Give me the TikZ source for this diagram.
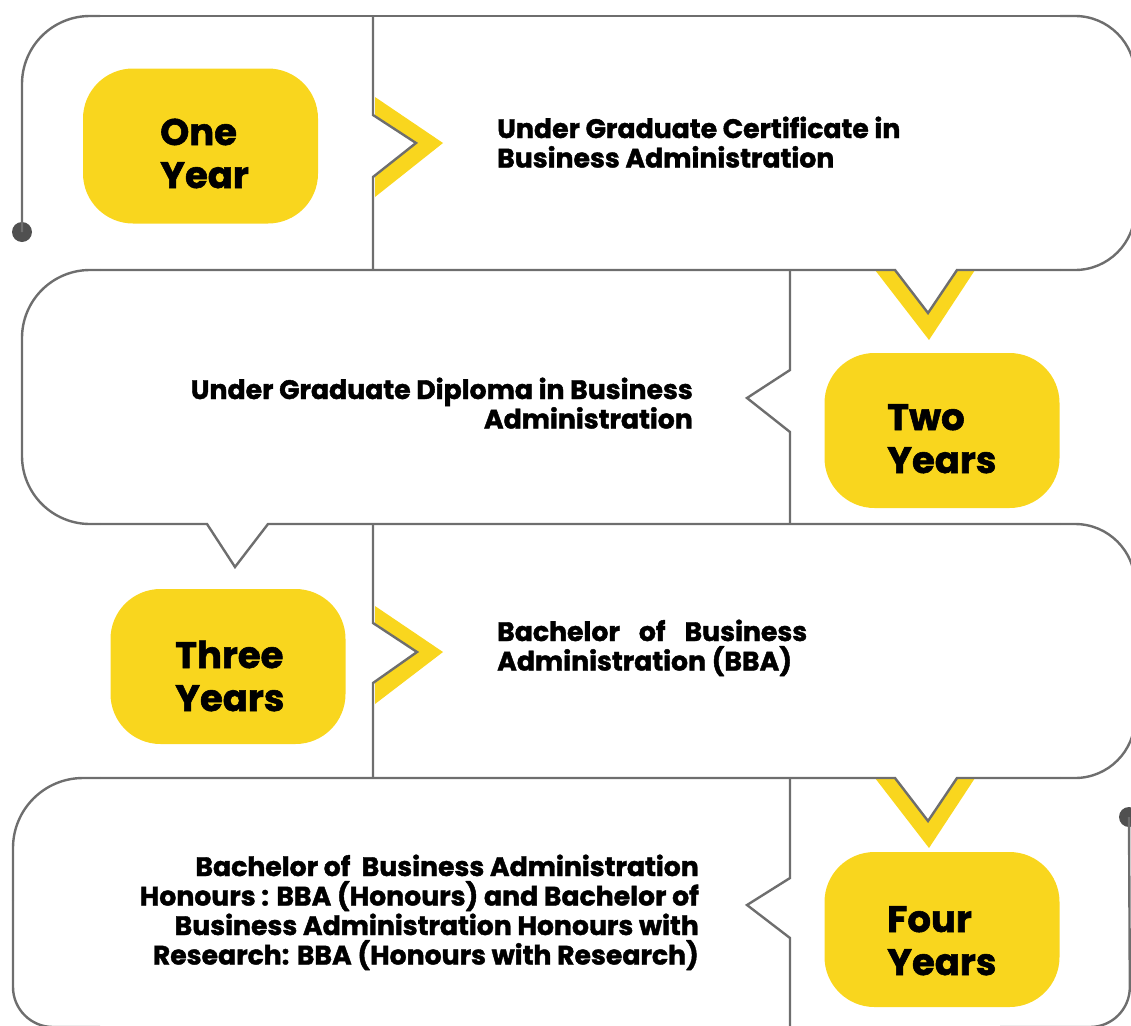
\documentclass[tikz,border=0pt]{standalone}
\usepackage{fontspec}
\setmainfont{Poppins}[BoldFeatures={FakeBold=1.5}]
\definecolor{ylw}{RGB}{249,214,30}
\definecolor{lne}{RGB}{110,110,110}
\definecolor{dotc}{RGB}{80,80,80}
\begin{document}
\begin{tikzpicture}[x=1pt,y=-1pt,
  edge/.style={draw=lne, line width=2.4pt, line join=miter},
  yearbox/.style={fill=ylw, rounded corners=50pt, minimum width=235pt, minimum height=155pt, inner sep=0pt},
  yeartext/.style={font=\fontsize{37}{43}\selectfont\bfseries, align=left, inner sep=0pt, anchor=base west},
  desc/.style={font=\fontsize{26.7}{29.5}\selectfont\bfseries, inner sep=0pt},
  dotnode/.style={circle, fill=dotc, minimum size=20pt, inner sep=0pt}]
\useasboundingbox (0,0) rectangle (1131,1025);
\clip (0,0) rectangle (1131,1025);
% yellow chevrons
\fill[ylw] (375,97) -- (443,143) -- (375,197) -- (375,177) -- (416,143) -- (375,115) -- cycle;
\fill[ylw] (875,270) -- (929,340) -- (975,270) -- (957,270) -- (928,313) -- (895,270) -- cycle;
\fill[ylw] (375,606) -- (443,652) -- (375,704) -- (375,683) -- (417,652) -- (375,623) -- cycle;
\fill[ylw] (875,778) -- (929,848) -- (975,778) -- (957,778) -- (928,821) -- (895,778) -- cycle;
% dots
\node[dotnode] (start) at (22,232) {};
\node[dotnode] (finish) at (1129,817) {};
% snake outline
\draw[edge, rounded corners=68pt] (start.center) -- (22,16) -- (100,16);
\draw[edge] (100,16) -- (1060,16);
\draw[edge, rounded corners=60pt] (1060,16) -- (1135,16) -- (1135,270) -- (1060,270);
\draw[edge] (1060,270) -- (957,270) -- (928,313) -- (895,270) -- (100,270);
\draw[edge, rounded corners=68pt] (100,270) -- (22,270) -- (22,524) -- (100,524);
\draw[edge] (100,524) -- (207,524) -- (235,567) -- (268,524) -- (1060,524);
\draw[edge, rounded corners=60pt] (1060,524) -- (1135,524) -- (1135,778) -- (1060,778);
\draw[edge] (1060,778) -- (957,778) -- (928,821) -- (895,778) -- (100,778);
\draw[edge, rounded corners=70pt] (100,778) -- (13,778) -- (13,900);
\draw[edge, rounded corners=40pt] (13,900) -- (13,1027) -- (100,1027);
\draw[edge, rounded corners=40pt] (finish.center) -- (1130,1027) -- (1000,1027);
% dividers
\draw[edge] (373,16) -- (373,115) -- (416,143) -- (373,177) -- (373,270);
\draw[edge] (790,270) -- (790,370) -- (747,398) -- (790,432) -- (790,524);
\draw[edge] (373,524) -- (373,623) -- (417,652) -- (373,683) -- (373,778);
\draw[edge] (790,778) -- (790,878) -- (747,905) -- (790,938) -- (790,1030);
% year boxes
\node[yearbox] (b1) at (200.5,146) {};
\node[yearbox] (b2) at (942,430.5) {};
\node[yearbox] (b3) at (228,666.5) {};
\node[yearbox] (b4) at (942,929.5) {};
% (base anchor = baseline of the last line)
\node[yeartext] (y1) at (160,188) {One\\Year};
\node[yeartext] (y2) at (887,473) {Two\\Years};
\node[yeartext] (y3) at (175,711) {Three\\Years};
\node[yeartext] (y4) at (887,975) {Four\\Years};
% descriptions
\node[desc, anchor=base west, align=left] (d1) at (497,167.5) {Under Graduate Certificate in\\Business Administration};
\node[desc, anchor=base east, align=right] (d2) at (693,428.5) {Under Graduate Diploma in Business\\Administration};
\node[desc, anchor=base west, align=left] (d3) at (497,670.5) {\hbox to 310pt{Bachelor\hfill of\hfill Business}\\Administration (BBA)};
\node[desc, anchor=base east, align=right] (d4) at (699,964.5) {Bachelor of~ Business Administration\\Honours : BBA (Honours) and Bachelor of\\Business Administration Honours with\\Research: BBA (Honours with Research)};
\end{tikzpicture}
\end{document}
